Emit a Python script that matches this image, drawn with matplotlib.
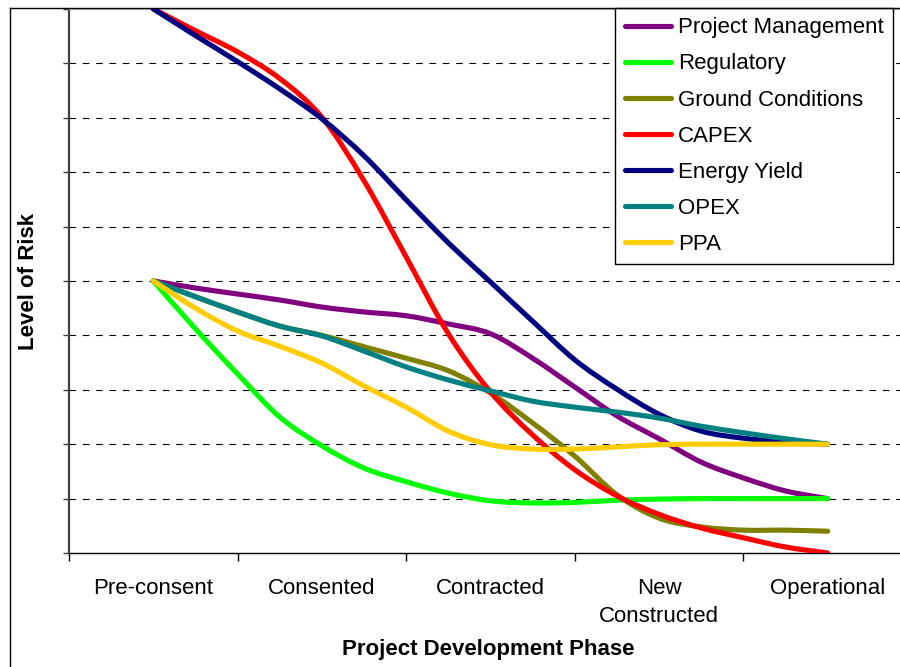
import matplotlib
matplotlib.use("Agg")
import matplotlib.pyplot as plt
from matplotlib.lines import Line2D
from matplotlib.path import Path
from matplotlib.patches import PathPatch

plt.rcParams["font.family"] = ["Liberation Sans", "DejaVu Sans"]

# Development phases and the quarter-phase positions of the risk readings
phases = ["Pre-consent", "Consented", "Contracted", "New\nConstructed", "Operational"]
stage = [0, 0.25, 0.5, 0.75, 1, 1.25, 1.5, 1.75, 2,
         2.25, 2.5, 2.75, 3, 3.25, 3.5, 3.75, 4]

project_management = [5.0, 4.87, 4.76, 4.65, 4.52, 4.43, 4.36, 4.21, 4.03,
                      3.58, 3.05, 2.52, 2.10, 1.67, 1.38, 1.14, 1.0]
regulatory = [5.0, 4.12, 3.29, 2.50, 1.97, 1.56, 1.31, 1.10, 0.96,
              0.92, 0.93, 0.97, 0.99, 1.0, 1.0, 1.0, 1.0]
ground_conditions = [5.0, 4.71, 4.43, 4.17, 4.0, 3.79, 3.58, 3.35, 2.94,
                     2.39, 1.78, 1.07, 0.64, 0.48, 0.42, 0.42, 0.40]
capex = [10.0, 9.60, 9.21, 8.72, 8.01, 6.84, 5.44, 4.03, 2.96,
         2.17, 1.53, 1.05, 0.71, 0.46, 0.28, 0.11, 0.0]
energy_yield = [10.0, 9.51, 9.03, 8.53, 7.98, 7.30, 6.49, 5.70, 4.98,
                4.26, 3.55, 3.01, 2.55, 2.24, 2.11, 2.04, 2.0]
opex = [5.0, 4.71, 4.43, 4.17, 3.99, 3.71, 3.42, 3.18, 2.98,
        2.79, 2.68, 2.59, 2.48, 2.33, 2.21, 2.10, 2.0]
ppa = [5.0, 4.50, 4.08, 3.80, 3.49, 3.07, 2.68, 2.24, 1.99,
       1.91, 1.91, 1.95, 1.99, 2.0, 2.0, 2.0, 2.0]

series = [
    ("Project Management", project_management, "#800080"),
    ("Regulatory", regulatory, "#00FF00"),
    ("Ground Conditions", ground_conditions, "#808000"),
    ("CAPEX", capex, "#FF0000"),
    ("Energy Yield", energy_yield, "#000080"),
    ("OPEX", opex, "#008080"),
    ("PPA", ppa, "#FFCC00"),
]


def smooth_path(xs, ys):
    """Cubic Bezier path through every point (Catmull-Rom style smoothing)."""
    n = len(xs)
    verts = [(xs[0], ys[0])]
    codes = [Path.MOVETO]
    for i in range(n - 1):
        x0, y0 = (xs[i - 1], ys[i - 1]) if i > 0 else (xs[i], ys[i])
        x1, y1 = xs[i], ys[i]
        x2, y2 = xs[i + 1], ys[i + 1]
        x3, y3 = (xs[i + 2], ys[i + 2]) if i + 2 < n else (x2, y2)
        c1 = (x1 + (x2 - x0) / 6, y1 + (y2 - y0) / 6)
        c2 = (x2 - (x3 - x1) / 6, y2 - (y3 - y1) / 6)
        verts += [c1, c2, (x2, y2)]
        codes += [Path.CURVE4] * 3
    return Path(verts, codes)


W, H = 900, 667
fig = plt.figure(figsize=(W / 100, H / 100), dpi=100)

# plot area in pixel terms (right edge runs past the canvas)
left, right, top, bottom = 69, 912, 8.9, 553
ax = fig.add_axes([left / W, 1 - bottom / H, (right - left) / W, (bottom - top) / H])

handles = []
for name, vals, col in series:
    patch = PathPatch(smooth_path(stage, vals), facecolor="none", edgecolor=col,
                      lw=3.7, capstyle="round", joinstyle="round", zorder=3)
    ax.add_patch(patch)
    handles.append(Line2D([], [], color=col, lw=3.7, solid_capstyle="round", label=name))

ax.set_xlim(-0.5, 4.5)
ax.set_ylim(0, 10)

# dashed horizontal gridlines
for v in range(1, 10):
    ax.axhline(v, color="black", lw=0.8, dashes=(5.9, 6.1), zorder=1)

ax.set_yticks(range(0, 11))
ax.set_yticklabels([])
ax.tick_params(axis="y", direction="out", length=4.3, width=1.0, color="#404040")

ax.set_xticks([-0.5, 0.5, 1.5, 2.5, 3.5, 4.5])
ax.set_xticklabels([])
ax.set_xticks(range(5), minor=True)
ax.set_xticklabels(phases, minor=True, fontsize=16, linespacing=1.45)
ax.tick_params(axis="x", which="major", direction="out", length=5.5, width=1.0, color="black")
ax.tick_params(axis="x", which="minor", length=0, pad=18)

ax.spines["left"].set_color("#404040")
ax.spines["left"].set_linewidth(1.6)
ax.spines["bottom"].set_color("black")
ax.spines["bottom"].set_linewidth(1.0)
ax.spines["top"].set_color("#c0c0c0")
ax.spines["top"].set_linewidth(1.0)
ax.spines["right"].set_visible(False)

fig.text(488 / W, 1 - 650 / H, "Project Development Phase", ha="center", va="center",
         fontsize=16, fontweight="bold")
fig.text(28 / W, 1 - 281 / H, "Level of Risk", ha="center", va="center",
         rotation=90, fontsize=16, fontweight="bold")

leg = ax.legend(handles=handles, loc="upper right", bbox_to_anchor=(893 / W, 1 - 8 / H),
                bbox_transform=fig.transFigure, borderaxespad=0, fontsize=16,
                frameon=True, fancybox=False, shadow=False, handlelength=2.1,
                handletextpad=0.3, labelspacing=0.68, borderpad=0.42)
leg.get_frame().set_edgecolor("black")
leg.get_frame().set_linewidth(1.0)
leg.get_frame().set_alpha(1)
leg.set_zorder(5)

# chart border
fig.add_artist(Line2D([10 / W, 10 / W], [1 - 8 / H, 0], transform=fig.transFigure,
                      color="black", lw=1.0))
fig.add_artist(Line2D([10 / W, 1], [1 - 8 / H, 1 - 8 / H], transform=fig.transFigure,
                      color="black", lw=1.0))

fig.savefig("out.png", dpi=100)
